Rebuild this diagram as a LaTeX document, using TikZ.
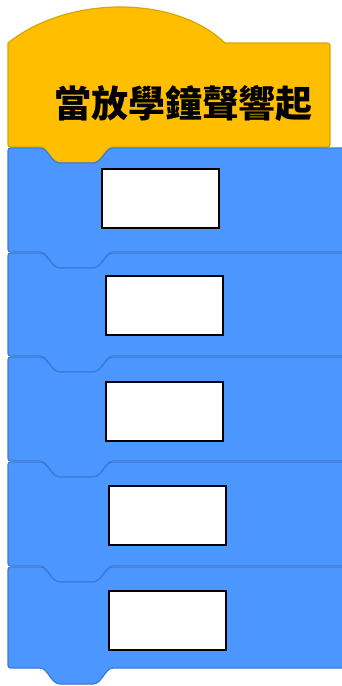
\documentclass[tikz,border=0pt]{standalone}
\usepackage{fontspec}
\newfontfamily\cjk{Noto Sans CJK TC}
\definecolor{hatfill}{HTML}{FFBF00}
\definecolor{hatline}{HTML}{D9A400}
\definecolor{blkfill}{HTML}{4C97FF}
\definecolor{blkline}{HTML}{3A7AD9}
\tikzset{
  hatblock/.style={fill=hatfill,draw=hatline,line width=1.2pt},
  cmdblock/.style={fill=blkfill,draw=blkline,line width=1.2pt},
  slotbox/.style={draw=black,fill=white,line width=2pt,minimum width=117pt,minimum height=59pt,inner sep=0pt,anchor=north west},
  hattext/.style={font=\cjk\bfseries\fontsize{37}{37}\selectfont,text=black,inner sep=0pt}
}
\newcommand{\cmdshape}[2]{%
  \draw[cmdblock] (8,#1+6) .. controls (8,#1) .. (14,#1)
    -- (40,#1) .. controls (48,#1) and (51,#1+15) .. (60,#1+15)
    -- (93,#1+15) .. controls (102,#1+15) and (105,#1) .. (113,#1)
    -- (346,#1) -- (346,#2) -- (113,#2)
    .. controls (105,#2) and (102,#2+16) .. (93,#2+16)
    -- (60,#2+16) .. controls (51,#2+16) and (48,#2) .. (40,#2)
    -- (14,#2) .. controls (8,#2) .. (8,#2-6) -- cycle;}
\begin{document}
\begin{tikzpicture}[x=1pt,y=-1pt]
\useasboundingbox (0,0) rectangle (341,686);
% hat block
\draw[hatblock] (8,141) -- (8,43) .. controls (68,-5) and (175,-5) .. (225,43)
  -- (324,43) .. controls (330,43) .. (330,49)
  -- (330,141) .. controls (330,147) .. (324,147) -- (113,147)
  .. controls (105,147) and (102,163) .. (93,163)
  -- (60,163) .. controls (51,163) and (48,147) .. (40,147)
  -- (14,147) .. controls (8,147) .. cycle;
\node[hattext] (title) at (183.5,103) {當放學鐘聲響起};
% command blocks
\cmdshape{148}{252}
\node[slotbox] (s1) at (101,168) {};
\cmdshape{253}{356}
\node[slotbox] (s2) at (105,275) {};
\cmdshape{357}{461}
\node[slotbox] (s3) at (105,381) {};
\cmdshape{462}{566}
\node[slotbox] (s4) at (108,485) {};
\cmdshape{567}{668}
\node[slotbox] (s5) at (108,590) {};
\end{tikzpicture}
\end{document}
